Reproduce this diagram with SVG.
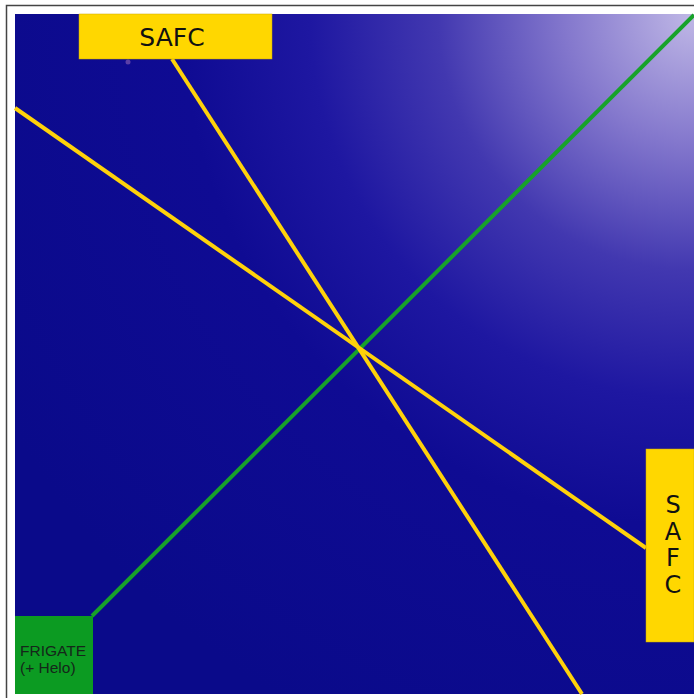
<svg xmlns="http://www.w3.org/2000/svg" width="694" height="698" viewBox="0 0 694 698">
  <defs>
    <radialGradient id="bg" gradientUnits="userSpaceOnUse" cx="694" cy="14" r="800">
      <stop offset="0" stop-color="#c0b8e6"/>
      <stop offset="0.16" stop-color="#8478cd"/>
      <stop offset="0.32" stop-color="#4238b0"/>
      <stop offset="0.48" stop-color="#1e17a1"/>
      <stop offset="0.64" stop-color="#0f0b93"/>
      <stop offset="1" stop-color="#0a0a8a"/>
    </radialGradient>
    <style>
      .safc { fill: #ffd700; stroke: #c9a800; stroke-width: 0.5; }
      .safc-t { font-family: "DejaVu Sans", sans-serif; font-size: 25px; fill: #111; text-anchor: middle; }
      .safc-v { font-family: "DejaVu Sans", sans-serif; font-size: 24px; fill: #111; text-anchor: middle; }
      .ylw { stroke: #ffd20a; stroke-width: 4; fill: none; }
      .grn { stroke: #17a22a; stroke-width: 4; fill: none; }
      .frig-t { font-family: "Liberation Sans", Arial, sans-serif; font-size: 15.5px; fill: #15271a; }
    </style>
  </defs>
  <rect x="0" y="0" width="694" height="698" fill="#ffffff"/>
  <rect x="6.5" y="5.5" width="700" height="700" fill="none" stroke="#444" stroke-width="1.5"/>
  <rect x="15" y="14" width="679" height="680" fill="url(#bg)"/>
  <circle cx="128" cy="62" r="2.5" fill="#5b3fa6"/>
  <g id="connectors">
    <line class="grn" x1="92" y1="616" x2="694" y2="15"/>
    <line class="ylw" x1="172" y1="59" x2="582" y2="694"/>
    <line class="ylw" x1="15" y1="108" x2="646" y2="548"/>
  </g>
  <g id="safc-top">
    <rect class="safc" x="79" y="14" width="193" height="45"/>
    <text class="safc-t" x="172" y="46">SAFC</text>
  </g>
  <g id="safc-right">
    <rect class="safc" x="646" y="449" width="48" height="193"/>
    <text class="safc-v" x="673" y="513">S</text>
    <text class="safc-v" x="673" y="540">A</text>
    <text class="safc-v" x="673" y="566">F</text>
    <text class="safc-v" x="673" y="593">C</text>
  </g>
  <g id="frigate">
    <rect x="15" y="616" width="78" height="78" fill="#0c9b22"/>
    <text class="frig-t" x="20" y="656">FRIGATE</text>
    <text class="frig-t" x="20" y="673">(+ Helo)</text>
  </g>
</svg>
